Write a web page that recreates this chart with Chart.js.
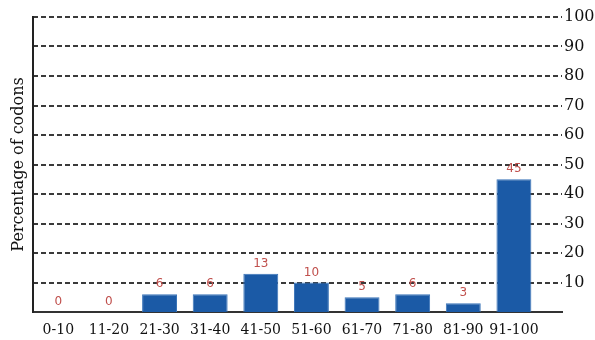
<!DOCTYPE html>
<html>
<head>
<meta charset="utf-8">
<script src="https://cdn.jsdelivr.net/npm/chart.js@4/dist/chart.umd.min.js"></script>
<style>
  html, body { margin: 0; padding: 0; background: #fff; }
  #wrap { width: 595px; height: 340px; position: relative; }
</style>
</head>
<body>
<div id="wrap"><canvas id="c" width="595" height="340"></canvas></div>
<script>
// Codon usage bins (percent range) and share of codons in each bin
const categories = ['0-10', '11-20', '21-30', '31-40', '41-50', '51-60', '61-70', '71-80', '81-90', '91-100'];
const percentages = [0, 0, 6, 6, 13, 10, 5, 6, 3, 45];
const yTicks = [10, 20, 30, 40, 50, 60, 70, 80, 90, 100];

const SERIF = '"DejaVu Serif", "Liberation Serif", serif';

// Writes each bar's value just above it
const valueLabels = {
  id: 'valueLabels',
  afterDatasetsDraw(chart) {
    const ctx = chart.ctx;
    const meta = chart.getDatasetMeta(0);
    ctx.save();
    ctx.font = '12px "DejaVu Sans", sans-serif';
    ctx.fillStyle = '#c0504d';
    ctx.textAlign = 'center';
    ctx.textBaseline = 'middle';
    meta.data.forEach((bar, i) => {
      ctx.fillText(String(percentages[i]), bar.x, bar.y - 10);
    });
    ctx.restore();
  }
};

new Chart(document.getElementById('c'), {
  type: 'bar',
  data: {
    datasets: [{
      data: percentages.map((v, i) => ({ x: i, y: v })),
      backgroundColor: '#1b5aa6',
      borderColor: '#3a74b8',
      borderWidth: 1,
      barPercentage: 0.69,
      categoryPercentage: 1
    }]
  },
  options: {
    responsive: false,
    animation: false,
    layout: { padding: { top: 17, left: 0, right: 0, bottom: 0 } },
    plugins: { legend: { display: false }, tooltip: { enabled: false } },
    scales: {
      x: {
        type: 'linear',
        offset: false,
        min: -0.5,
        max: 9.95,
        afterBuildTicks: (scale) => { scale.ticks = categories.map((_, i) => ({ value: i })); },
        afterFit: (scale) => { scale.height = 28; },
        ticks: {
          callback: (v) => categories[v],
          autoSkip: false,
          maxRotation: 0,
          padding: 10,
          color: '#111',
          font: { family: SERIF, size: 14 }
        },
        grid: { display: false, drawTicks: false },
        border: { display: true, color: '#333', width: 2 }
      },
      yL: {
        position: 'left',
        min: 0,
        max: 100,
        afterFit: (scale) => { scale.width = 33; },
        ticks: { display: false },
        grid: { display: false, drawTicks: false },
        border: { display: true, color: '#222', width: 2 },
        title: {
          display: true,
          text: 'Percentage of codons',
          color: '#111',
          padding: { top: 9, bottom: 0 },
          font: { family: SERIF, size: 16 }
        }
      },
      y: {
        position: 'right',
        min: 0,
        max: 100,
        afterBuildTicks: (scale) => { scale.ticks = [0].concat(yTicks).map(v => ({ value: v })); },
        afterFit: (scale) => { scale.width = 33; },
        ticks: {
          callback: (v) => (v === 0 ? '' : String(v)),
          padding: 2,
          color: '#111',
          font: { family: SERIF, size: 16 }
        },
        grid: {
          drawTicks: false,
          color: (ctx) => (ctx.tick && ctx.tick.value === 0 ? 'rgba(0,0,0,0)' : '#3a3a3a'),
          lineWidth: 2
        },
        border: { display: false, dash: [5, 3] }
      }
    }
  },
  plugins: [valueLabels]
});
</script>
</body>
</html>
